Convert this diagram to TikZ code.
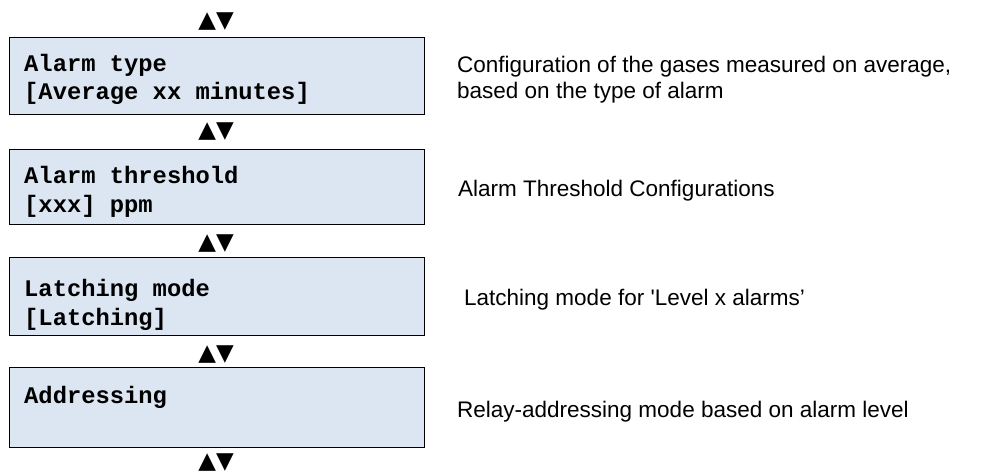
\documentclass[tikz,border=0pt]{standalone}
\usepackage{fontspec}
\setmainfont{Liberation Sans}[Ligatures=TeXOff]
\setmonofont{Liberation Mono}
\newfontfamily\symfont{DejaVu Sans}
\definecolor{boxfill}{HTML}{DCE6F2}
\begin{document}
\begin{tikzpicture}[x=1pt,y=-1pt,
  box/.style={draw=black, line width=1.8pt, fill=boxfill, minimum width=415pt, inner sep=0pt},
  mono/.style={font=\ttfamily\bfseries\fontsize{23.8}{28}\selectfont, anchor=base west, inner sep=0pt},
  desc/.style={font=\fontsize{22.5}{26}\selectfont, anchor=base west, inner sep=0pt},
  updown/.style={font=\symfont\fontsize{23}{23}\selectfont, inner sep=0pt, anchor=base}]
\useasboundingbox (0,0) rectangle (987,474);
% boxes
\node[box, minimum height=77pt] (b1) at (217,76) {};
\node[box, minimum height=75pt] (b2) at (217,187) {};
\node[box, minimum height=78pt] (b3) at (217,296.5) {};
\node[box, minimum height=80pt] (b4) at (217,407.5) {};
% box texts
\node[mono] (t1a) at (24,71) {Alarm type};
\node[mono] (t1b) at (24,99) {[Average xx minutes]};
\node[mono] (t2a) at (24,183) {Alarm threshold};
\node[mono] (t2b) at (24,212) {[xxx] ppm};
\node[mono] (t3a) at (24,296) {Latching mode};
\node[mono] (t3b) at (24,325) {[Latching]};
\node[mono] (t4a) at (24,403) {Addressing};
% up/down marks
\node[updown] (a0) at (216,27) {▲▼};
\node[updown] (a1) at (216,137) {▲▼};
\node[updown] (a2) at (216,249) {▲▼};
\node[updown] (a3) at (216,360) {▲▼};
\node[updown] (a4) at (216,468) {▲▼};
% descriptions
\node[desc] (d1a) at (457,72) {Configuration of the gases measured on average,};
\node[desc] (d1b) at (457,98) {based on the type of alarm};
\node[desc] (d2) at (458,196) {Alarm Threshold Configurations};
\node[desc] (d3) at (464,305) {Latching mode for 'Level x alarms’};
\node[desc] (d4) at (457,417) {Relay-addressing mode based on alarm level};
\end{tikzpicture}
\end{document}
